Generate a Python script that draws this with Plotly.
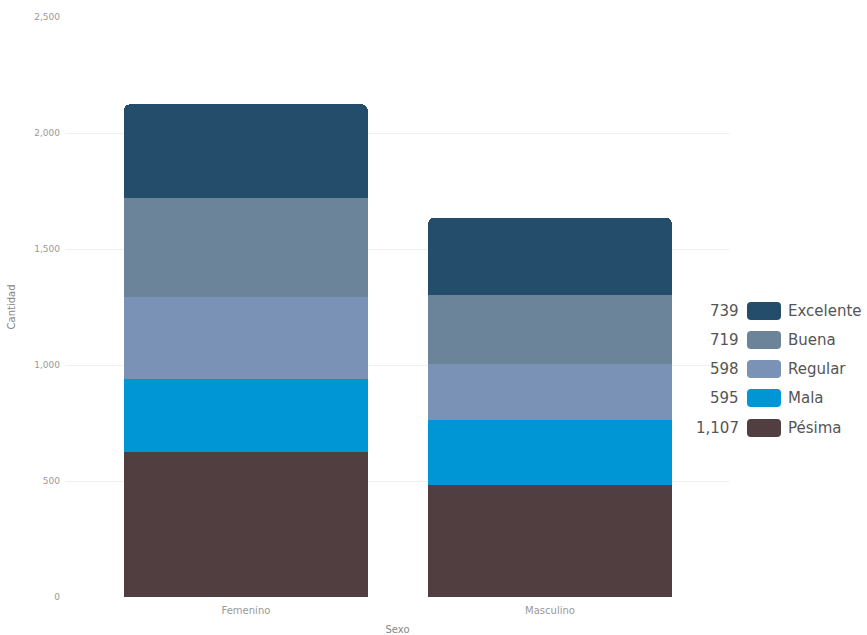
import plotly.graph_objects as go

categories = ["Femenino", "Masculino"]
series_names = ["Pésima", "Mala", "Regular", "Buena", "Excelente"]
pesima = [625, 482]
mala = [315, 280]
regular = [354, 244]
buena = [424, 295]
excelente = [405, 334]
totals_labels = ["1,107", "595", "598", "719", "739"]
colors = ["#513e40", "#0096d6", "#7a92b6", "#6c8499", "#234d6a"]
y_ticks = [0, 500, 1000, 1500, 2000, 2500]
y_ticktext = ["0", "500", "1,000", "1,500", "2,000", "2,500"]

values = [pesima, mala, regular, buena, excelente]

W, H = 867, 635
L, R, T, B = 65, 137, 17, 38
PW, PH = W - L - R, H - T - B

fig = go.Figure()
for name, vals, col in zip(series_names, values, colors):
    fig.add_trace(go.Bar(x=categories, y=vals, name=name, marker_color=col,
                         marker_line_width=0, width=0.8, showlegend=False))

def px_x(p):
    return (p - L) / PW

def px_y(p):
    return (H - B - p) / PH

# custom legend (top entry = last series)
legend_y = [428, 398, 369, 340, 311]
shapes = []
annotations = []
for i, (name, col, tot) in enumerate(zip(series_names, colors, totals_labels)):
    cy = legend_y[i]
    x0, x1 = 747, 781
    y0, y1 = cy - 9, cy + 9
    r = 4
    path = (f"M {px_x(x0 + r)},{px_y(y0)} L {px_x(x1 - r)},{px_y(y0)} "
            f"Q {px_x(x1)},{px_y(y0)} {px_x(x1)},{px_y(y0 + r)} "
            f"L {px_x(x1)},{px_y(y1 - r)} Q {px_x(x1)},{px_y(y1)} {px_x(x1 - r)},{px_y(y1)} "
            f"L {px_x(x0 + r)},{px_y(y1)} Q {px_x(x0)},{px_y(y1)} {px_x(x0)},{px_y(y1 - r)} "
            f"L {px_x(x0)},{px_y(y0 + r)} Q {px_x(x0)},{px_y(y0)} {px_x(x0 + r)},{px_y(y0)} Z")
    shapes.append(dict(type="path", xref="paper", yref="paper", path=path,
                       fillcolor=col, line=dict(width=0)))
    annotations.append(dict(x=px_x(741), y=px_y(cy), xref="paper", yref="paper",
                            text=tot, showarrow=False, xanchor="right", yanchor="middle",
                            font=dict(size=15, color="#555555", family="DejaVu Sans")))
    annotations.append(dict(x=px_x(786), y=px_y(cy), xref="paper", yref="paper",
                            text=name, showarrow=False, xanchor="left", yanchor="middle",
                            font=dict(size=15, color="#555555", family="DejaVu Sans")))

fig.update_layout(
    width=W, height=H,
    margin=dict(l=L, r=R, t=T, b=B, pad=0),
    barmode="stack",
    barcornerradius=5,
    plot_bgcolor="white", paper_bgcolor="white",
    font=dict(family="DejaVu Sans", color="#999999", size=9),
    shapes=shapes,
    annotations=annotations,
    xaxis=dict(range=[-0.595, 1.592], showgrid=False, zeroline=False, showline=False,
               ticks="", tickfont=dict(size=10, color="#999999"), ticklabelstandoff=6,
               automargin=False,
               title=dict(text="Sexo", font=dict(size=10, color="#888888"), standoff=10)),
    yaxis=dict(range=[0, 2500], tickvals=y_ticks, ticktext=y_ticktext,
               showgrid=True, gridcolor="#f0f0f0", gridwidth=1, zeroline=False,
               showline=False, ticks="", tickfont=dict(size=9, color="#999999"),
               ticklabelstandoff=4, automargin=False,
               title=dict(text="Cantidad", font=dict(size=10, color="#888888"), standoff=16)),
)

fig.write_html("out.html", config={"displayModeBar": False},
               post_script="document.body.style.margin='0';document.body.style.padding='0';")
